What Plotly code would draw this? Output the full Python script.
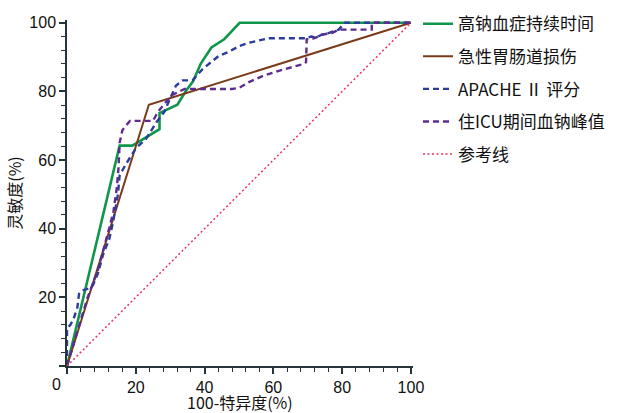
import plotly.graph_objects as go

# ---- data ----
names = ["高钠血症持续时间", "急性胃肠道损伤", "APACHE Ⅱ 评分", "住ICU期间血钠峰值", "参考线"]

green_x = [0, 15.3, 19.0, 26.9, 26.9, 32.1, 34.6, 36.7, 38.9, 42.0, 45.7, 50.2, 100]
green_y = [0, 64.2, 64.2, 69.0, 73.7, 76.1, 80.2, 83.0, 88.1, 92.8, 95.2, 100, 100]

brown_x = [0, 23.8, 100]
brown_y = [0, 76.1, 100]

blue_x = [0, 0, 1.0, 2.0, 3.0, 3.5, 4.5, 6.0, 7.5, 9.0, 10.5, 12.3, 13.4, 14.0, 14.8, 15.3,
          17.0, 20.0, 23.0, 26.0, 28.3, 30.0, 31.7, 33.6, 36.5, 39.4, 44.2, 47.0, 50.0, 53.0,
          58.7, 69.7, 71.0, 72.5, 74.0, 76.0, 79.0, 80.8, 100]
blue_y = [0, 11, 12, 14, 17, 21, 22, 22.5, 23.5, 27, 32.5, 37, 42, 46, 50, 55.5,
          58.6, 63.4, 66.2, 71, 74, 78, 81.7, 83.2, 83.2, 86.5, 90.4, 91.5, 93.2, 94.2,
          95.5, 95.5, 96, 95.7, 96.5, 97, 98, 100, 100]

purple_x = [0, 3, 6, 9, 11, 12.5, 13.5, 14.5, 15.0, 15.3, 16.1, 18.3, 25.0, 26.4, 30.3, 34.2,
            48.0, 50.0, 52.9, 56.7, 61.6, 68.8, 69.5, 69.7, 72.0, 74.0, 77.0, 79.0, 88.6, 88.6, 100]
purple_y = [0, 10, 20, 28, 35, 41, 45, 52, 58, 65, 68.7, 71.4, 71.4, 74, 78.8, 80.7,
            80.7, 81, 82.7, 84.4, 86, 88, 88.5, 95.2, 95.5, 96.5, 97, 98, 98, 100, 100]

ref_x = [0, 100]
ref_y = [0, 100]

tick_vals = [0, 20, 40, 60, 80, 100]
tick_text = ["", "20", "40", "60", "80", "100"]

colors = ["#10964a", "#7a3b1b", "#2b3c9b", "#5c2c8f", "#e8335e"]

fig = go.Figure()
series = [(green_x, green_y), (brown_x, brown_y), (blue_x, blue_y), (purple_x, purple_y), (ref_x, ref_y)]
styles = [dict(width=2.6, dash="solid"), dict(width=2.0, dash="solid"),
          dict(width=2.4, dash="6px,4px"), dict(width=2.4, dash="6px,4px"),
          dict(width=1.5, dash="2px,2.5px")]
for i, ((xs, ys), st) in enumerate(zip(series, styles)):
    fig.add_trace(go.Scatter(x=xs, y=ys, mode="lines", name=names[i], legendgroup=str(i),
                             line=dict(color=colors[i], **st)))

axis_common = dict(
    showgrid=False, zeroline=False, showline=True, linecolor="#26343c", linewidth=1.5,
    ticks="outside", ticklen=6, tickwidth=1.5, tickcolor="#26343c",
    tickvals=tick_vals, ticktext=tick_text, automargin=False,
    tickfont=dict(family="Liberation Sans, Arial", size=16, color="#111"),
    minor=dict(dtick=4, ticklen=4, tickwidth=1.2, tickcolor="#26343c", ticks="outside"),
)

fig.update_layout(
    width=617, height=413,
    margin=dict(l=67, r=204, t=20, b=47, autoexpand=False),
    paper_bgcolor="white", plot_bgcolor="white",
    xaxis=dict(range=[0, 100.6], **axis_common),
    yaxis=dict(range=[0, 100.8], title=dict(text="灵敏度(%)", standoff=4,
               font=dict(family="Noto Sans CJK SC", size=16, color="#111")), **axis_common),
    legend=dict(x=1.0145, y=1.04, xanchor="left", yanchor="top",
                font=dict(family="Noto Sans CJK SC", size=17, color="#111"),
                tracegroupgap=7.5, itemwidth=30, bgcolor="rgba(0,0,0,0)"),
    showlegend=True,
)

fig.add_annotation(text="0", x=-3 / 100.6, y=0, xref="paper", yref="paper", yshift=-8,
                   yanchor="top", xanchor="center", showarrow=False,
                   font=dict(family="Liberation Sans, Arial", size=16, color="#111"))

fig.add_annotation(text="100-特异度(%)", x=0.5, y=-0.104, xref="paper", yref="paper",
                   xanchor="center", yanchor="middle", showarrow=False,
                   font=dict(family="Noto Sans CJK SC", size=16, color="#111"))

fig.write_html("out.html", config={"displayModeBar": False},
               post_script="document.body.style.margin='0';document.body.style.padding='0';")
